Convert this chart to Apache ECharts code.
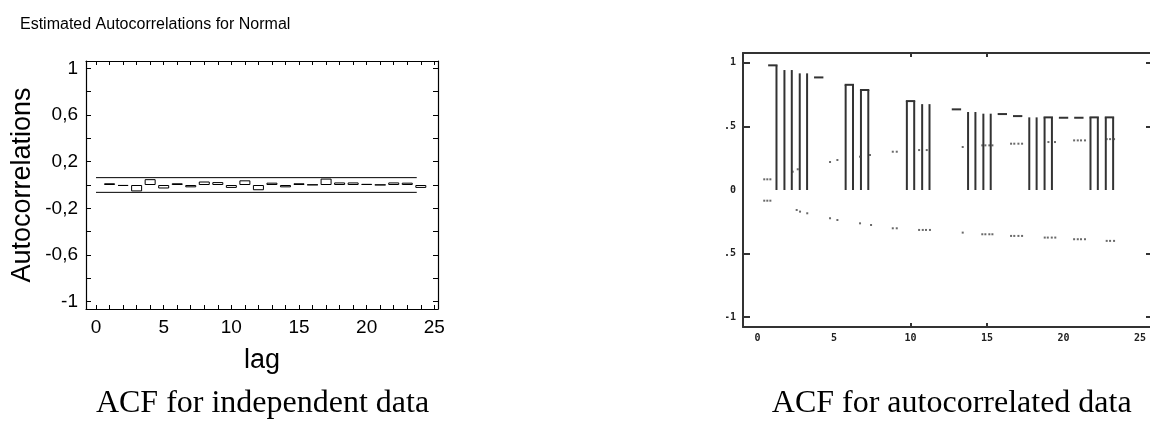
<!DOCTYPE html>
<html>
<head>
<meta charset="utf-8">
<script src="https://cdn.jsdelivr.net/npm/echarts@6/dist/echarts.min.js"></script>
<style>
  html, body { margin: 0; padding: 0; background: #fff; }
  #wrap { position: relative; width: 1150px; height: 433px; overflow: hidden; }
  #left { position: absolute; left: 0; top: 0; width: 726px; height: 433px; }
  #right { position: absolute; left: 726px; top: 0; width: 424px; height: 433px; }
</style>
</head>
<body>
<div id="wrap"><div id="left"></div><div id="right"></div></div>
<script>
// ---------- Left chart: independent data ----------
const titleText = 'Estimated Autocorrelations for Normal';
const captionIndep = 'ACF for independent data';
const lagsIndep = [1, 2, 3, 4, 5, 6, 7, 8, 9, 10, 11, 12, 13, 14, 15, 16, 17, 18, 19, 20, 21, 22, 23, 24];
const acfIndep = [0.015, -0.008, -0.055, 0.05, -0.03, 0.015, -0.02, 0.03, 0.025, -0.025, 0.04, -0.045,
                  0.02, -0.02, 0.015, 0.003, 0.055, 0.022, 0.022, 0.01, 0.002, 0.022, 0.02, -0.025];
const limitLagsIndep = [0, 23.7];
const upperLimitIndep = 0.063;
const lowerLimitIndep = -0.063;
const xLabelValuesIndep = [0, 5, 10, 15, 20, 25];
const xTickValuesIndep = [0, 1, 2, 3, 4, 5, 6, 7, 8, 9, 10, 11, 12, 13, 14, 15, 16, 17, 18, 19, 20, 21, 22, 23, 24, 25];
const yLabelValuesIndep = [-1, -0.6, -0.2, 0.2, 0.6, 1];
const yTickValuesIndep = [-1, -0.8, -0.6, -0.4, -0.2, 0, 0.2, 0.4, 0.6, 0.8, 1];
const xNameIndep = 'lag';
const yNameIndep = 'Autocorrelations';

// ---------- Right chart: autocorrelated data ----------
const captionAuto = 'ACF for autocorrelated data';
const lagsAuto = [1, 2, 3, 4, 6, 7, 10, 11, 13, 14, 15, 16, 17, 18, 19, 20, 21, 22, 23];
const acfAuto = [0.98, 0.943, 0.917, 0.885, 0.827, 0.786, 0.699, 0.675, 0.634, 0.613, 0.600,
                 0.597, 0.581, 0.571, 0.571, 0.568, 0.568, 0.571, 0.571];
// which outline parts of each bar are visible in the (low-resolution) original
const leftSideLags = [2, 3, 6, 7, 10, 11, 14, 15, 18, 19, 22, 23];
const rightSideLags = [1, 2, 3, 6, 7, 10, 11, 14, 15, 18, 19, 22, 23];
const capLags = [1, 4, 6, 7, 10, 13, 16, 17, 19, 20, 21, 22, 23];
const upperBandLags = [0.44, 0.64, 0.84, 2.30, 2.63, 4.74, 5.22, 6.70, 7.35, 8.84, 9.10, 10.56, 11.06, 13.41,
                       14.69, 14.89, 15.15, 15.35, 16.57, 16.78, 17.05, 17.29, 19.01, 19.44,
                       20.69, 20.93, 21.14, 21.40, 22.82, 23.04, 23.30];
const upperBandValues = [0.084, 0.084, 0.084, 0.144, 0.163, 0.22, 0.236, 0.262, 0.275, 0.301, 0.301, 0.314, 0.314, 0.338,
                         0.351, 0.351, 0.351, 0.351, 0.364, 0.364, 0.364, 0.364, 0.377, 0.377,
                         0.39, 0.39, 0.39, 0.39, 0.40, 0.40, 0.40];
const lowerBandLags = [0.44, 0.64, 0.84, 2.56, 2.78, 3.25, 4.74, 5.22, 6.70, 7.42, 8.84, 9.10,
                       10.56, 10.80, 11.01, 11.27, 13.41, 14.69, 14.89, 15.15, 15.35,
                       16.57, 16.78, 17.05, 17.29, 18.77, 18.97, 19.23, 19.46,
                       20.69, 20.93, 21.14, 21.40, 22.82, 23.04, 23.30];
const lowerBandValues = [-0.084, -0.084, -0.084, -0.157, -0.17, -0.183, -0.222, -0.236, -0.262, -0.275, -0.301, -0.301,
                         -0.314, -0.314, -0.314, -0.314, -0.335, -0.348, -0.348, -0.348, -0.348,
                         -0.361, -0.361, -0.361, -0.361, -0.374, -0.374, -0.374, -0.374,
                         -0.387, -0.387, -0.387, -0.387, -0.40, -0.40, -0.40];
const xLabelValuesAuto = [0, 5, 10, 15, 20, 25];
const xTickValuesAuto = [10, 15];
const yLabelValuesAuto = [-1, -0.5, 0, 0.5, 1];
const yLabelTextAuto = ['-1', '-.5', '0', '.5', '1'];
const yTickValuesAuto = [-1, -0.5, 0.5, 1];

// ================= Left chart =================
const SANS = '"Liberation Sans", Arial, sans-serif';
const SERIF = '"Liberation Serif", "Times New Roman", serif';
const MONO = '"DejaVu Sans Mono", monospace';

const leftChart = echarts.init(document.getElementById('left'), null, { renderer: 'canvas' });
const boxLine = { show: true, onZero: false, lineStyle: { color: '#000', width: 1.2 } };
const tickStyle = { color: '#000', width: 1 };
leftChart.setOption({
  animation: false,
  backgroundColor: '#fff',
  grid: { left: 86, top: 61, width: 352, height: 248, outerBoundsMode: 'none', containLabel: false },
  xAxis: [{
    type: 'value', min: -0.74, max: 25.27, position: 'bottom',
    axisLine: boxLine,
    axisTick: { inside: true, length: 4, customValues: xTickValuesIndep, lineStyle: tickStyle },
    axisLabel: { customValues: xLabelValuesIndep, fontSize: 19, color: '#000', fontFamily: SANS, margin: 9 },
    splitLine: { show: false },
    name: xNameIndep, nameLocation: 'middle', nameGap: 38,
    nameTextStyle: { fontSize: 27, color: '#000', fontFamily: SANS }
  }, {
    type: 'value', min: -0.74, max: 25.27, position: 'top',
    axisLine: boxLine,
    axisTick: { inside: true, length: 4, customValues: xTickValuesIndep, lineStyle: tickStyle },
    axisLabel: { show: false }, splitLine: { show: false }
  }],
  yAxis: [{
    type: 'value', min: -1.063, max: 1.063, position: 'left',
    axisLine: boxLine,
    axisTick: { inside: true, length: 5, customValues: yTickValuesIndep, lineStyle: tickStyle },
    axisLabel: { customValues: yLabelValuesIndep, fontSize: 19, color: '#000', fontFamily: SANS, margin: 8,
                 formatter: v => String(v).replace('.', ',') },
    splitLine: { show: false },
    name: yNameIndep, nameLocation: 'middle', nameGap: 50, nameRotate: 90,
    nameTextStyle: { fontSize: 27, color: '#000', fontFamily: SANS }
  }, {
    type: 'value', min: -1.063, max: 1.063, position: 'right',
    axisLine: boxLine,
    axisTick: { inside: true, length: 5, customValues: yTickValuesIndep, lineStyle: tickStyle },
    axisLabel: { show: false }, splitLine: { show: false }
  }],
  graphic: [
    { type: 'text', x: 20, y: 24.5, silent: true,
      style: { text: titleText, font: '16px ' + SANS, fill: '#000', align: 'left', verticalAlign: 'middle' } },
    { type: 'text', x: 262.5, y: 404, silent: true,
      style: { text: captionIndep, font: '32px ' + SERIF, fill: '#000', align: 'center', verticalAlign: 'middle' } }
  ],
  series: [
    { type: 'line', silent: true, symbol: 'none', xAxisIndex: 0, yAxisIndex: 0,
      data: limitLagsIndep.map(l => [l, upperLimitIndep]), lineStyle: { color: '#000', width: 1 } },
    { type: 'line', silent: true, symbol: 'none', xAxisIndex: 0, yAxisIndex: 0,
      data: limitLagsIndep.map(l => [l, lowerLimitIndep]), lineStyle: { color: '#000', width: 1 } },
    { type: 'bar', silent: true, xAxisIndex: 0, yAxisIndex: 0, barWidth: 11, z: 3,
      data: lagsIndep.map((l, i) => [l, acfIndep[i]]),
      itemStyle: { color: '#fff', borderColor: '#000', borderWidth: 1 } }
  ]
});

// ================= Right chart =================
const rightChart = echarts.init(document.getElementById('right'), null, { renderer: 'canvas' });
const darkLine = { color: '#333', width: 2 };
const barHalf = 0.24;
const pixelLabel = { fontSize: 10, fontWeight: 'bold', color: '#222', fontFamily: MONO };
rightChart.setOption({
  animation: false,
  backgroundColor: '#fff',
  grid: { left: 17, top: 53, width: 409, height: 274, outerBoundsMode: 'none', containLabel: false },
  xAxis: [{
    type: 'value', min: -0.948, max: 25.78, position: 'bottom',
    axisLine: { show: true, onZero: false, lineStyle: darkLine },
    axisTick: { inside: true, length: 4, customValues: xTickValuesAuto, lineStyle: darkLine },
    axisLabel: Object.assign({ customValues: xLabelValuesAuto, margin: 6 }, pixelLabel),
    splitLine: { show: false }
  }, {
    type: 'value', min: -0.948, max: 25.78, position: 'top',
    axisLine: { show: true, onZero: false, lineStyle: darkLine },
    axisTick: { inside: true, length: 4, customValues: xTickValuesAuto, lineStyle: darkLine },
    axisLabel: { show: false }, splitLine: { show: false }
  }],
  yAxis: [{
    type: 'value', min: -1.077, max: 1.077, position: 'left',
    axisLine: { show: true, onZero: false, lineStyle: darkLine },
    axisTick: { inside: true, length: 7, customValues: yTickValuesAuto, lineStyle: darkLine },
    axisLabel: Object.assign({ customValues: yLabelValuesAuto, margin: 7,
      formatter: v => yLabelTextAuto[yLabelValuesAuto.indexOf(v)] }, pixelLabel),
    splitLine: { show: false }
  }, {
    type: 'value', min: -1.077, max: 1.077, position: 'right',
    axisLine: { show: true, onZero: false, lineStyle: darkLine },
    axisTick: { inside: true, length: 6, customValues: yTickValuesAuto, lineStyle: darkLine },
    axisLabel: { show: false }, splitLine: { show: false }
  }],
  graphic: [
    { type: 'text', x: 951.7 - 726, y: 404, silent: true,
      style: { text: captionAuto, font: '32px ' + SERIF, fill: '#000', align: 'center', verticalAlign: 'middle' } }
  ],
  series: [
    { type: 'custom', silent: true, xAxisIndex: 0, yAxisIndex: 0,
      data: lagsAuto.map((l, i) => [l, acfAuto[i]]),
      renderItem: function (params, api) {
        const lag = api.value(0), v = api.value(1);
        const a = api.coord([lag - barHalf, 0]);
        const b = api.coord([lag + barHalf, v]);
        const st = { stroke: '#333', lineWidth: 2 };
        const kids = [];
        if (leftSideLags.includes(lag)) kids.push({ type: 'line', shape: { x1: a[0], y1: a[1], x2: a[0], y2: b[1] }, style: st });
        if (rightSideLags.includes(lag)) kids.push({ type: 'line', shape: { x1: b[0], y1: a[1], x2: b[0], y2: b[1] }, style: st });
        if (capLags.includes(lag)) kids.push({ type: 'line', shape: { x1: a[0] - 1, y1: b[1], x2: b[0] + 1, y2: b[1] }, style: st });
        return { type: 'group', children: kids };
      }
    },
    { type: 'scatter', silent: true, symbol: 'rect', symbolSize: 2,
      data: upperBandLags.map((l, i) => [l, upperBandValues[i]]), itemStyle: { color: '#444' } },
    { type: 'scatter', silent: true, symbol: 'rect', symbolSize: 2,
      data: lowerBandLags.map((l, i) => [l, lowerBandValues[i]]), itemStyle: { color: '#444' } }
  ]
});
</script>
</body>
</html>
